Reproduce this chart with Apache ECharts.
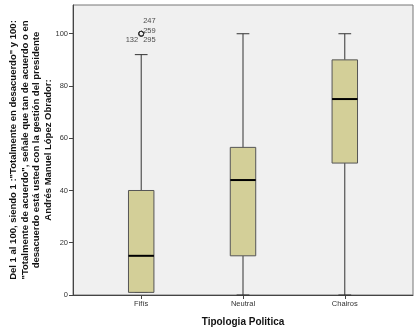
<!DOCTYPE html>
<html>
<head>
<meta charset="utf-8">
<script src="https://cdn.jsdelivr.net/npm/echarts@6/dist/echarts.min.js"></script>
<style>
    html, body { margin: 0; padding: 0; background: #fff; }
    #chart { width: 419px; height: 336px; }
</style>
</head>
<body>
<div id="chart"></div>
<script>
// categorias y estadisticos
let categories = ['Fifís', 'Neutral', 'Chairos']
let whiskerLow = [1, 0, 0]
let q1 = [1, 15, 50.5]
let median = [15, 44, 75]
let q3 = [40, 56.5, 90]
let whiskerHigh = [92, 100, 100]
// atipicos (Fifís)
let outlierCases = ['247', '259', '295', '132']
let outlierValues = [100, 100, 100, 100]
let yTicks = [0, 20, 40, 60, 80, 100]

let font = 'Liberation Sans, Arial, sans-serif'
let chart = echarts.init(document.getElementById('chart'))

let boxData = categories.map(function (c, i) {
    return [i + 1, whiskerLow[i], q1[i], median[i], q3[i], whiskerHigh[i]]
})
// posicion de cada etiqueta respecto al punto
let labelPos = {
    '247': { align: 'left', offset: [2, -13] },
    '259': { align: 'left', offset: [2, -3] },
    '295': { align: 'left', offset: [2, 6] },
    '132': { align: 'right', offset: [-3, 6] }
}
let outlierData = outlierCases.map(function (id, i) {
    let p = labelPos[id]
    return {
        value: [1, outlierValues[i]],
        label: {
            show: true,
            formatter: id,
            position: 'inside',
            align: p.align,
            offset: p.offset,
            color: '#222',
            fontSize: 7.5,
            fontFamily: font
        }
    }
})

function renderBox(params, api) {
    let x = api.value(0)
    let unit = api.size([1, 0])[0]
    let half = unit * 0.125
    let cap = half / 2
    let pLow = api.coord([x, api.value(1)])
    let pQ1 = api.coord([x, api.value(2)])
    let pMed = api.coord([x, api.value(3)])
    let pQ3 = api.coord([x, api.value(4)])
    let pHigh = api.coord([x, api.value(5)])
    let cx = pQ1[0]
    let lineStyle = { stroke: '#333', lineWidth: 1 }
    return {
        type: 'group',
        children: [
            { type: 'line', shape: { x1: cx, y1: pHigh[1], x2: cx, y2: pQ3[1] }, style: lineStyle },
            { type: 'line', shape: { x1: cx - cap, y1: pHigh[1], x2: cx + cap, y2: pHigh[1] }, style: lineStyle },
            { type: 'line', shape: { x1: cx, y1: pLow[1], x2: cx, y2: pQ1[1] }, style: lineStyle },
            { type: 'line', shape: { x1: cx - cap, y1: pLow[1], x2: cx + cap, y2: pLow[1] }, style: lineStyle },
            {
                type: 'rect',
                shape: { x: cx - half, y: pQ3[1], width: half * 2, height: pQ1[1] - pQ3[1] },
                style: { fill: '#d3cf98', stroke: '#555', lineWidth: 1 }
            },
            { type: 'line', shape: { x1: cx - half, y1: pMed[1], x2: cx + half, y2: pMed[1] }, style: { stroke: '#000', lineWidth: 2 } }
        ]
    }
}

let option = {
    animation: false,
    backgroundColor: '#fff',
    grid: {
        left: 73,
        right: 6,
        top: 5,
        bottom: 41,
        outerBoundsMode: 'none',
        containLabel: false,
        show: true,
        backgroundColor: '#f0f0f0',
        borderColor: '#777',
        borderWidth: 1
    },
    xAxis: {
        type: 'value',
        min: 0.33,
        max: 3.67,
        name: 'Tipologia Politica',
        nameLocation: 'middle',
        nameGap: 22,
        nameMoveOverlap: false,
        nameTextStyle: { color: '#111', fontSize: 10, fontWeight: 'bold', fontFamily: font },
        splitLine: { show: false },
        axisLine: { lineStyle: { color: '#444' } },
        axisTick: { customValues: [1, 2, 3], length: 4, lineStyle: { color: '#444' } },
        axisLabel: {
            customValues: [1, 2, 3],
            formatter: function (v) { return categories[Math.round(v) - 1] },
            color: '#333',
            fontSize: 7.5,
            fontFamily: font,
            margin: 5
        }
    },
    yAxis: {
        type: 'value',
        min: 0,
        max: 111,
        name: 'Del 1 al 100, siendo 1 :"Totalmente en desacuerdo" y 100:\n"Totalmente de acuerdo", señale que tan de acuerdo o en\ndesacuerdo está usted con la gestión del presidente\nAndrés Manuel López Obrador:',
        nameLocation: 'middle',
        nameRotate: 90,
        nameGap: 19,
        nameMoveOverlap: false,
        nameTextStyle: { color: '#111', fontSize: 9.5, fontWeight: 'bold', fontFamily: font, lineHeight: 11.5, align: 'center' },
        splitLine: { show: false },
        axisLine: { show: true, lineStyle: { color: '#444' } },
        axisTick: { show: true, customValues: yTicks, length: 4, lineStyle: { color: '#444' } },
        axisLabel: { customValues: yTicks, color: '#333', fontSize: 7.5, fontFamily: font, margin: 5 }
    },
    series: [
        {
            type: 'custom',
            renderItem: renderBox,
            encode: { x: 0, y: [1, 2, 3, 4, 5] },
            data: boxData
        },
        {
            type: 'scatter',
            symbol: 'circle',
            symbolSize: 5,
            itemStyle: { color: 'rgba(0,0,0,0)', borderColor: '#333', borderWidth: 1 },
            data: outlierData
        }
    ]
}
chart.setOption(option)
</script>
</body>
</html>
